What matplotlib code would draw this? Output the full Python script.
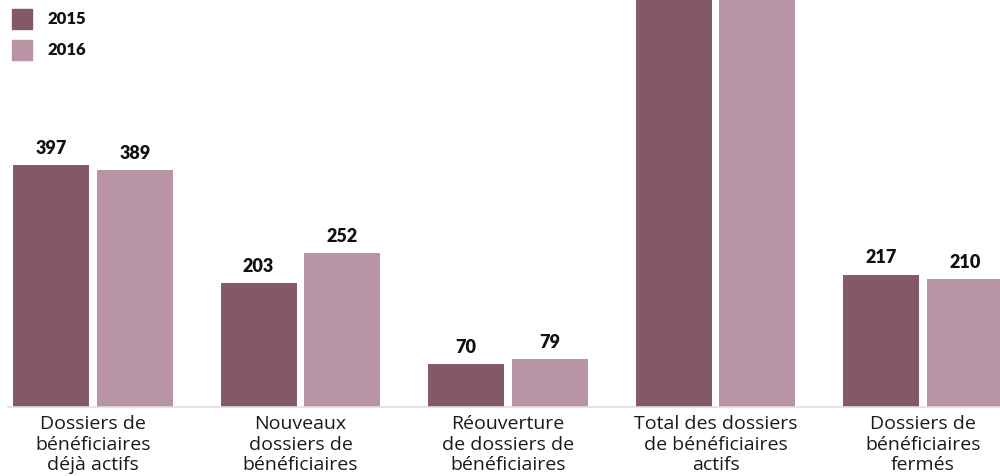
import matplotlib
matplotlib.use("Agg")
import matplotlib.pyplot as plt
from matplotlib.patches import Rectangle

categories = ["Dossiers de\nbénéficiaires\ndéjà actifs",
              "Nouveaux\ndossiers de\nbénéficiaires",
              "Réouverture\nde dossiers de\nbénéficiaires",
              "Total des dossiers\nde bénéficiaires\nactifs",
              "Dossiers de\nbénéficiaires\nfermés"]
series_names = ["2015", "2016"]
values_2015 = [397, 203, 70, 670, 217]
values_2016 = [389, 252, 79, 720, 210]
show_label = [True, True, True, False, True]

c2015 = "#845869"
c2016 = "#b793a4"

plt.rcParams['font.family'] = ['Lato', 'DejaVu Sans']

fig = plt.figure(figsize=(10, 4.76), dpi=100)
ax = fig.add_axes([0.0, 1 - 407/476, 1.0, 407/476])

w = 0.366
off = 0.202
x = list(range(len(categories)))
ax.bar([i - off for i in x], values_2015, width=w, color=c2015, zorder=2)
ax.bar([i + off for i in x], values_2016, width=w, color=c2016, zorder=2)

ax.set_xlim(-0.448, 4.371)
ax.set_ylim(0, 668)

for i in x:
    if show_label[i]:
        ax.annotate(str(values_2015[i]), (i - off, values_2015[i]), xytext=(0, 6),
                    textcoords="offset points", ha="center", va="bottom",
                    fontsize=13, fontweight="heavy", color="#111111")
        ax.annotate(str(values_2016[i]), (i + off, values_2016[i]), xytext=(0, 6),
                    textcoords="offset points", ha="center", va="bottom",
                    fontsize=13, fontweight="heavy", color="#111111")

for s in ["top", "right", "left"]:
    ax.spines[s].set_visible(False)
ax.spines["bottom"].set_color("#e6dbe0")
ax.spines["bottom"].set_linewidth(1.2)
ax.spines["bottom"].set_bounds(-0.41, 4.371)
ax.set_yticks([])
ax.set_xticks(x)
ax.set_xticklabels(categories, fontsize=14, color="#1a1a1a", linespacing=1.17,
                   family=['Open Sans', 'DejaVu Sans'])
ax.tick_params(axis="x", length=0, pad=6)

# legend
for k, (name, col) in enumerate(zip(series_names, [c2015, c2016])):
    ytop = 9 + 31 * k
    fig.add_artist(Rectangle((12/1000, 1 - (ytop + 20)/476), 20/1000, 20/476,
                             transform=fig.transFigure, color=col))
    fig.text(47/1000, 1 - (ytop + 10)/476, name, ha="left", va="center",
             fontsize=12, fontweight="heavy", color="#111111")

fig.savefig("out.png", dpi=100)
